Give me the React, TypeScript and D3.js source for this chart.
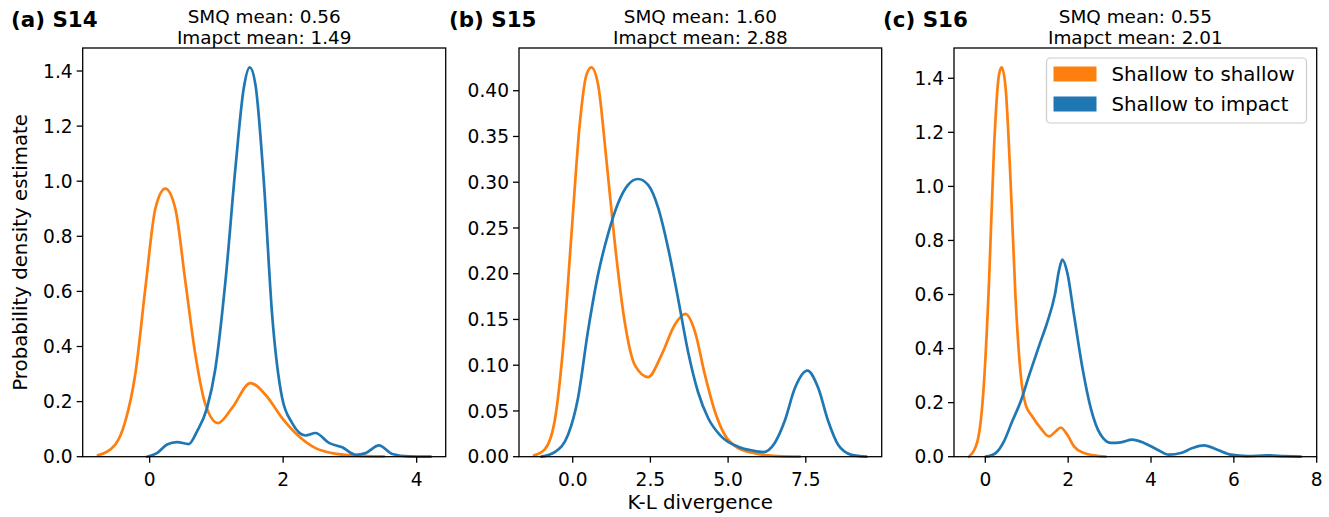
import React from "react";
import * as d3 from "d3";

type P = [number, number];

// Panel (a) S14
const s14Shallow: P[] = [
  [-0.775, 0.005], [-0.515, 0.044], [-0.365, 0.128], [-0.215, 0.3], [-0.065, 0.61], [0.085, 0.9],
  [0.235, 0.973], [0.385, 0.9], [0.535, 0.636], [0.685, 0.37], [0.835, 0.19], [1.025, 0.122],
  [1.235, 0.177], [1.51, 0.267], [1.735, 0.225], [1.985, 0.14], [2.235, 0.074], [2.485, 0.031],
  [2.735, 0.013], [3.085, 0.004], [3.51, 0.001],
];
const s14Impact: P[] = [
  [-0.04, 0.0], [0.11, 0.013], [0.26, 0.044], [0.41, 0.053], [0.585, 0.046], [0.71, 0.092],
  [0.86, 0.177], [0.985, 0.32], [1.135, 0.636], [1.285, 1.048], [1.41, 1.338], [1.5, 1.413],
  [1.585, 1.35], [1.71, 1.0], [1.835, 0.515], [1.985, 0.213], [2.135, 0.122], [2.335, 0.077],
  [2.485, 0.086], [2.685, 0.05], [2.885, 0.034], [3.085, 0.007], [3.235, 0.013], [3.435, 0.041],
  [3.635, 0.01], [3.885, 0.001], [4.21, 0.0],
];

// Panel (b) S15
const s15Shallow: P[] = [
  [-1.245, 0.0015], [-0.9, 0.008], [-0.58, 0.039], [-0.31, 0.119], [-0.04, 0.243], [0.225, 0.363],
  [0.44, 0.417], [0.6, 0.4255], [0.815, 0.407], [1.08, 0.326], [1.35, 0.235], [1.67, 0.148],
  [2.0, 0.1], [2.425, 0.087], [2.855, 0.111], [3.28, 0.144], [3.625, 0.156], [3.93, 0.137],
  [4.25, 0.09], [4.57, 0.05], [4.89, 0.024], [5.32, 0.0095], [5.965, 0.003], [6.61, 0.0007],
  [7.31, 0.0],
];
const s15Impact: P[] = [
  [-1.01, 0.0], [-0.58, 0.005], [-0.15, 0.024], [0.17, 0.064], [0.49, 0.137], [0.815, 0.199],
  [1.135, 0.243], [1.46, 0.277], [1.78, 0.297], [2.1, 0.3035], [2.425, 0.297], [2.75, 0.272],
  [3.07, 0.228], [3.39, 0.173], [3.71, 0.115], [4.03, 0.071], [4.36, 0.042], [4.785, 0.022],
  [5.32, 0.011], [5.75, 0.007], [6.13, 0.005], [6.5, 0.015], [6.82, 0.039], [7.15, 0.075],
  [7.55, 0.094], [7.9, 0.075], [8.22, 0.039], [8.54, 0.013], [8.97, 0.002], [9.45, 0.0],
];

// Panel (c) S16
const s16Shallow: P[] = [
  [-0.395, 0.0], [-0.19, 0.057], [-0.03, 0.279], [0.09, 0.649], [0.21, 1.142], [0.33, 1.413],
  [0.395, 1.44], [0.49, 1.364], [0.61, 1.018], [0.73, 0.587], [0.855, 0.303], [0.975, 0.192],
  [1.135, 0.149], [1.335, 0.106], [1.54, 0.075], [1.7, 0.094], [1.82, 0.108], [1.98, 0.081],
  [2.14, 0.038], [2.38, 0.0135], [2.62, 0.005], [2.905, 0.0],
];
const s16Impact: P[] = [
  [0.01, 0.0], [0.25, 0.0135], [0.45, 0.057], [0.65, 0.131], [0.855, 0.205], [1.055, 0.3],
  [1.32, 0.42], [1.48, 0.49], [1.68, 0.6], [1.78, 0.69], [1.86, 0.729], [1.98, 0.68],
  [2.14, 0.525], [2.345, 0.328], [2.545, 0.18], [2.785, 0.081], [3.03, 0.051], [3.27, 0.053],
  [3.55, 0.063], [3.83, 0.051], [4.155, 0.026], [4.435, 0.0074], [4.72, 0.0135], [5.0, 0.032],
  [5.28, 0.042], [5.6, 0.026], [5.93, 0.0074], [6.33, 0.002], [6.81, 0.005], [7.21, 0.002],
  [7.615, 0.0],
];

const panelLabels = ["(a) S14", "(b) S15", "(c) S16"];
const smqMeans = ["0.56", "1.60", "0.55"];
const impactMeans = ["1.49", "2.88", "2.01"];
const xTicks1 = [0, 2, 4];
const xTicks2 = [0, 2.5, 5, 7.5];
const xTicks3 = [0, 2, 4, 6, 8];
const yTicks1 = [0, 0.2, 0.4, 0.6, 0.8, 1.0, 1.2, 1.4];
const yTicks2 = [0, 0.05, 0.1, 0.15, 0.2, 0.25, 0.3, 0.35, 0.4];
const yTicks3 = [0, 0.2, 0.4, 0.6, 0.8, 1.0, 1.2, 1.4];
const legendLabels = ["Shallow to shallow", "Shallow to impact"];

const ORANGE = "#ff7f0e";
const BLUE = "#1f77b4";
const FONT = "DejaVu Sans, sans-serif";
const FS_TICK = 18.6;
const FS_TITLE = 18.4;
const FS_LABEL = 19.8;
const FS_BOLD = 21.4;

const TOP = 48;
const BOTTOM = 456.7;

interface PanelProps {
  left: number;
  right: number;
  xDomain: [number, number];
  yDomain: [number, number];
  xTicks: number[];
  yTicks: number[];
  xFmt: (v: number) => string;
  yFmt: (v: number) => string;
  shallow: P[];
  impact: P[];
  label: string;
  labelX: number;
  smq: string;
  imp: string;
  legend?: boolean;
}

function Panel(p: PanelProps) {
  const x = d3.scaleLinear().domain(p.xDomain).range([p.left, p.right]);
  const y = d3.scaleLinear().domain(p.yDomain).range([BOTTOM, TOP]);
  const line = d3
    .line<P>()
    .x((d) => x(d[0]))
    .y((d) => y(d[1]))
    .curve(d3.curveMonotoneX);
  const cx = (p.left + p.right) / 2;
  return (
    <g>
      <text x={p.labelX} y={26.5} fontFamily={FONT} fontSize={FS_BOLD} fontWeight="bold" fill="#000">
        {p.label}
      </text>
      <text x={cx} y={23} textAnchor="middle" fontFamily={FONT} fontSize={FS_TITLE} fill="#000">
        {`SMQ mean: ${p.smq}`}
      </text>
      <text x={cx} y={43.5} textAnchor="middle" fontFamily={FONT} fontSize={FS_TITLE} fill="#000">
        {`Imapct mean: ${p.imp}`}
      </text>
      <path d={line(p.shallow) || ""} fill="none" stroke={ORANGE} strokeWidth={2.7} strokeLinejoin="round" strokeLinecap="round" />
      <path d={line(p.impact) || ""} fill="none" stroke={BLUE} strokeWidth={2.7} strokeLinejoin="round" strokeLinecap="round" />
      {p.xTicks.map((t) => (
        <g key={"x" + t}>
          <line x1={x(t)} x2={x(t)} y1={BOTTOM} y2={BOTTOM + 6} stroke="#000" strokeWidth={1.3} />
          <text x={x(t)} y={BOTTOM + 29.5} textAnchor="middle" fontFamily={FONT} fontSize={FS_TICK} fill="#000">
            {p.xFmt(t)}
          </text>
        </g>
      ))}
      {p.yTicks.map((t) => (
        <g key={"y" + t}>
          <line x1={p.left - 6} x2={p.left} y1={y(t)} y2={y(t)} stroke="#000" strokeWidth={1.3} />
          <text x={p.left - 10} y={y(t)} dy="0.36em" textAnchor="end" fontFamily={FONT} fontSize={FS_TICK} fill="#000">
            {p.yFmt(t)}
          </text>
        </g>
      ))}
      <rect x={p.left} y={TOP} width={p.right - p.left} height={BOTTOM - TOP} fill="none" stroke="#000" strokeWidth={1.3} />
      {p.legend && (
        <g>
          <rect x={1046.5} y={58} width={260} height={65} rx={4} fill="#fff" fillOpacity={0.8} stroke="#cccccc" strokeWidth={1.2} />
          {legendLabels.map((l, i) => (
            <g key={l}>
              <rect x={1053.5} y={66.5 + i * 30} width={43} height={15} fill={i === 0 ? ORANGE : BLUE} />
              <text x={1111.5} y={74 + i * 30} dy="0.36em" fontFamily={FONT} fontSize={FS_LABEL} fill="#000">
                {l}
              </text>
            </g>
          ))}
        </g>
      )}
    </g>
  );
}

export default function App() {
  const f1 = d3.format(".1f");
  const f2 = d3.format(".2f");
  const f0 = d3.format("d");
  return (
    <div style={{ position: "absolute", left: 0, top: 0 }}>
      <svg width={1329} height={517} style={{ display: "block", background: "#fff" }}>
        <Panel
          left={82.7} right={445.7} xDomain={[-1.003, 4.435]} yDomain={[0, 1.4835]}
          xTicks={xTicks1} yTicks={yTicks1} xFmt={f0} yFmt={f1}
          shallow={s14Shallow} impact={s14Impact}
          label={panelLabels[0]} labelX={11} smq={smqMeans[0]} imp={impactMeans[0]}
        />
        <Panel
          left={519} right={881.7} xDomain={[-1.728, 9.942]} yDomain={[0, 0.4467]}
          xTicks={xTicks2} yTicks={yTicks2} xFmt={f1} yFmt={f2}
          shallow={s15Shallow} impact={s15Impact}
          label={panelLabels[1]} labelX={449} smq={smqMeans[1]} imp={impactMeans[1]}
        />
        <Panel
          left={954} right={1316.7} xDomain={[-0.756, 8.0]} yDomain={[0, 1.512]}
          xTicks={xTicks3} yTicks={yTicks3} xFmt={f0} yFmt={f1}
          shallow={s16Shallow} impact={s16Impact}
          label={panelLabels[2]} labelX={883} smq={smqMeans[2]} imp={impactMeans[2]}
          legend
        />
        <text
          transform={`translate(27,${(TOP + BOTTOM) / 2}) rotate(-90)`}
          textAnchor="middle" fontFamily={FONT} fontSize={FS_LABEL} fill="#000"
        >
          Probability density estimate
        </text>
        <text x={700.3} y={508.5} textAnchor="middle" fontFamily={FONT} fontSize={FS_LABEL} fill="#000">
          K-L divergence
        </text>
      </svg>
    </div>
  );
}
